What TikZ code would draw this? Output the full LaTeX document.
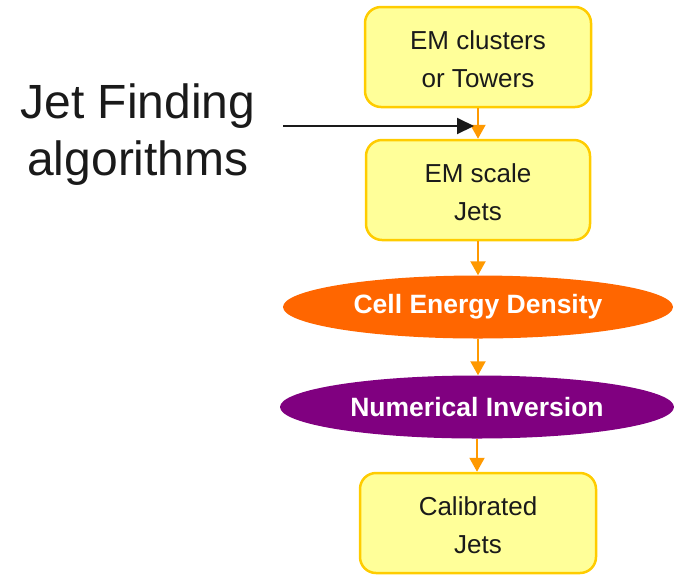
\documentclass[tikz,border=0pt]{standalone}
\usepackage{fontspec}
\setmainfont{Liberation Sans}
\usetikzlibrary{shapes.geometric,arrows.meta}
\definecolor{boxfill}{HTML}{FFFF99}
\definecolor{boxline}{HTML}{FFCC00}
\definecolor{arrorange}{HTML}{FF9900}
\definecolor{ellorange}{HTML}{FF6600}
\definecolor{ellpurple}{HTML}{800080}
\definecolor{txt}{HTML}{1A1A1A}
\begin{document}
\begin{tikzpicture}[x=1pt,y=-1pt,
  stepbox/.style={draw=boxline,fill=boxfill,line width=2.5pt,rounded corners=16pt,
    align=center,text=txt,font=\fontsize{26}{38}\selectfont,inner sep=0pt},
  ellbox/.style={ellipse,inner sep=0pt,text=white,font=\bfseries\fontsize{26.5}{30}\selectfont},
  flow/.style={draw=arrorange,line width=2pt,-{Triangle[length=14pt,width=15pt]}},
  blackarr/.style={draw=txt,line width=2pt,-{Triangle[length=17pt,width=16pt]}}]
\useasboundingbox (0,0) rectangle (674,574);
\node[stepbox,minimum width=226pt,minimum height=100pt] (b1) at (478,57) {\rule{0pt}{23pt}EM clusters\\or Towers};
\node[stepbox,minimum width=224pt,minimum height=100pt] (b2) at (478,190) {\rule{0pt}{23pt}EM scale\\Jets};
\node[ellbox,fill=ellorange,minimum width=390pt,minimum height=63pt] (e1) at (478,307) {Cell Energy Density};
\node[ellbox,fill=ellpurple,minimum width=394pt,minimum height=63pt] (e2) at (477,407) {Numerical Inversion};
\node[stepbox,minimum width=236pt,minimum height=100pt] (b3) at (478,523) {\rule{0pt}{23pt}Calibrated\\Jets};
\node[align=center,text=txt,font=\fontsize{48}{57}\selectfont,inner sep=0pt] (jf) at (138,135) {Jet Finding\\algorithms};
\coordinate (js) at (283,126);
\coordinate (je) at (474,126);
\draw[flow] (b1.south) -- (b2.north);
\draw[flow] (b2.south) -- (e1.north);
\draw[flow] (e1.south) -- (e2.north -| e1.south);
\draw[flow] (e2.south) -- (b3.north -| e2.south);
\draw[blackarr] (js) -- (je);
\end{tikzpicture}
\end{document}
